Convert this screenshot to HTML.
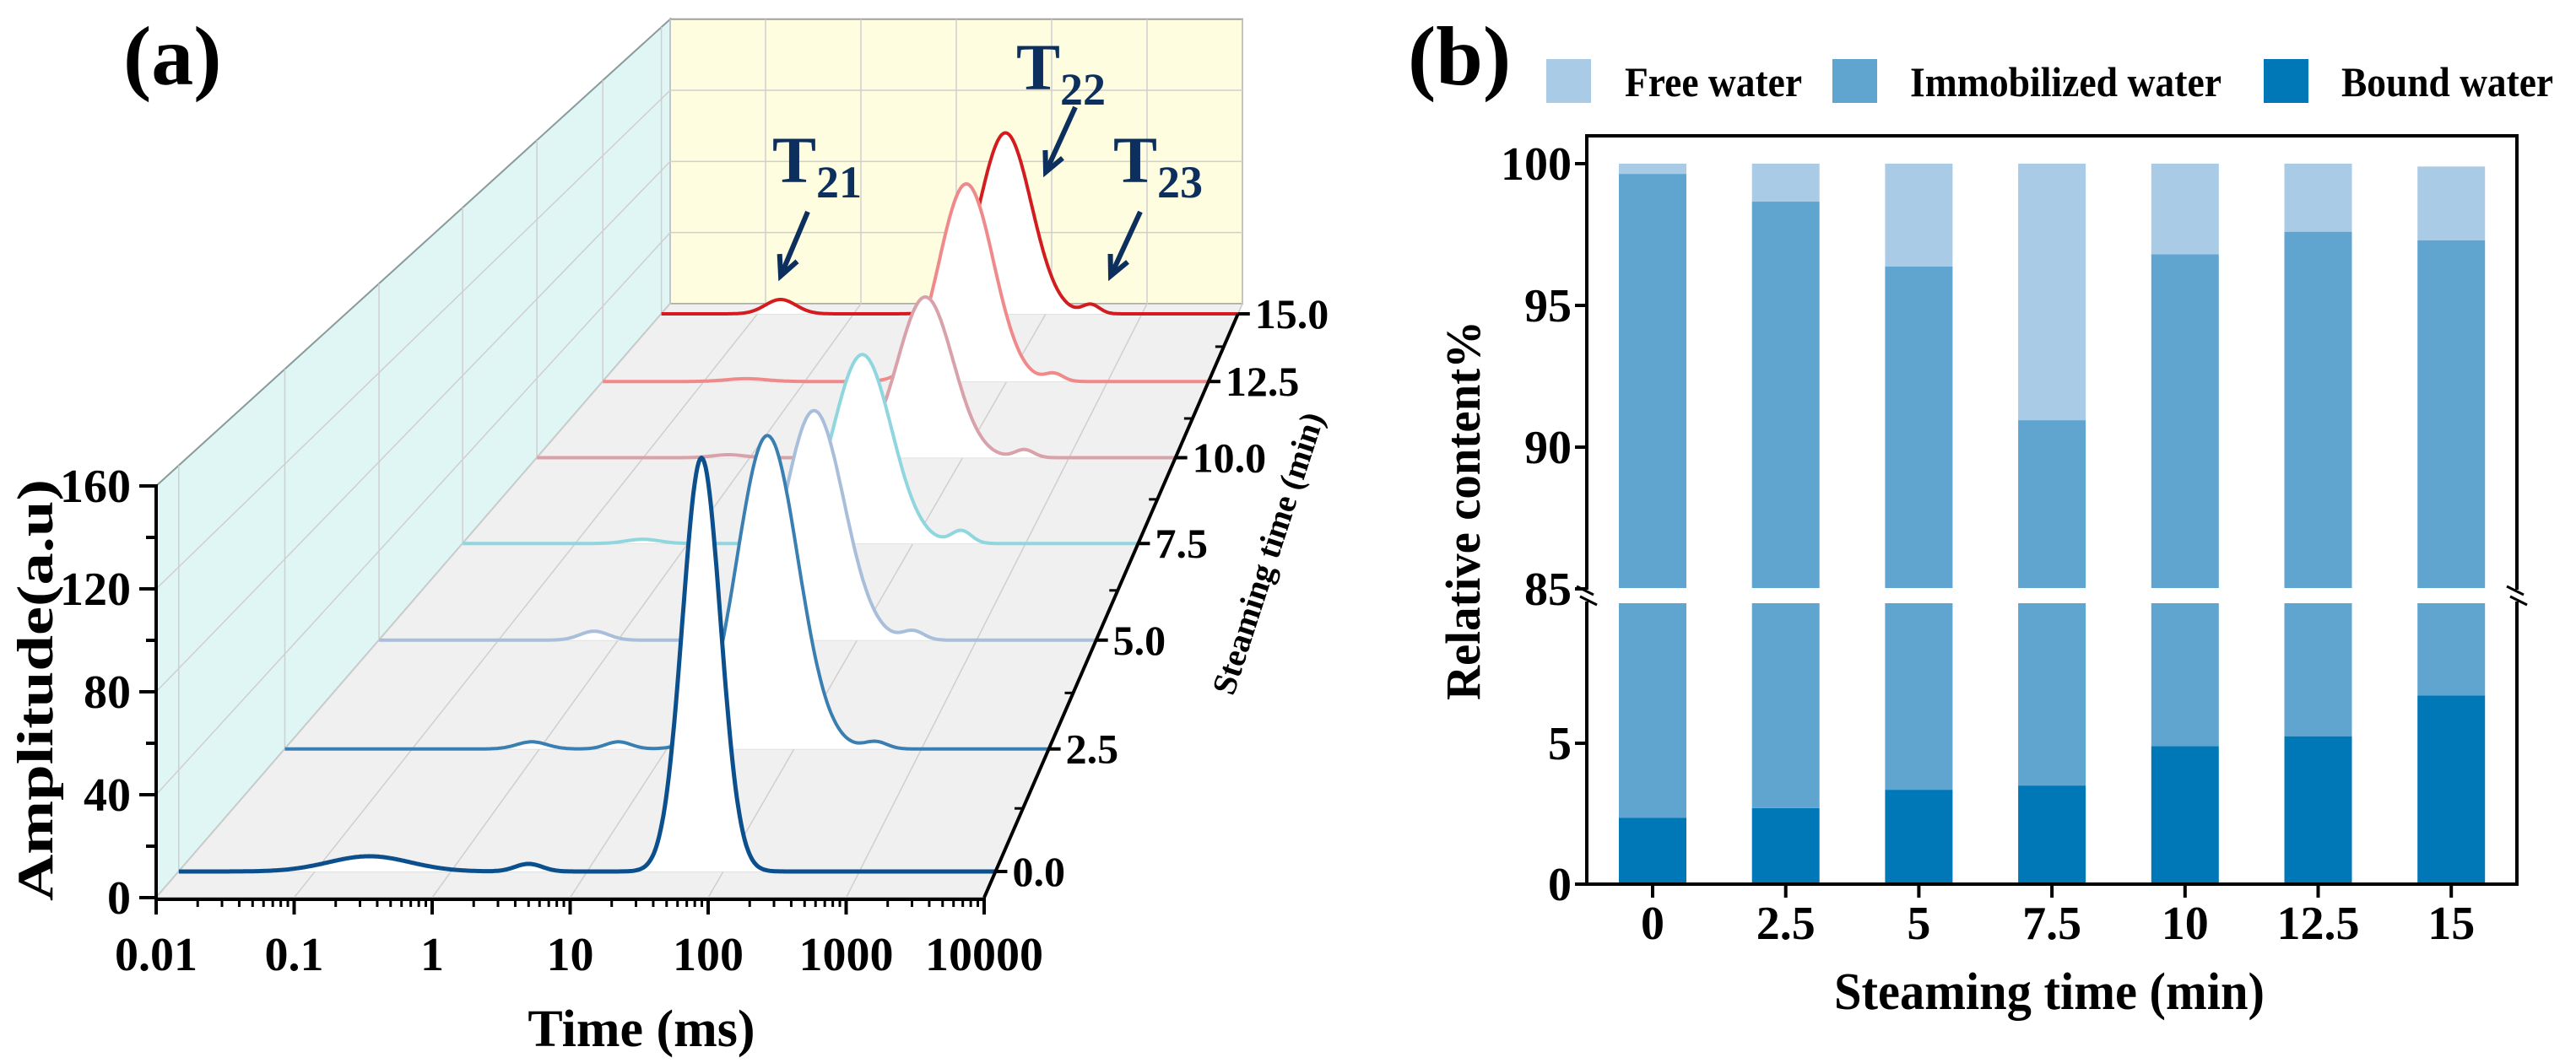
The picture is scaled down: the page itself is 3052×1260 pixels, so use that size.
<!DOCTYPE html>
<html><head><meta charset="utf-8"><style>
html,body{margin:0;padding:0;background:#fff;}
svg{display:block;}
text{font-family:"Liberation Serif",serif;font-weight:bold;}
</style></head><body>
<svg id="fig" xmlns="http://www.w3.org/2000/svg" width="3052" height="1260" viewBox="0 0 3052 1260">
<g id="pa"></g>
<g id="pb"></g>
</svg>
<script>
// ---------- Panel (a) data ----------
const depths = [0, 2.5, 5, 7.5, 10, 12.5, 15];
const depthLabels = ["0.0","2.5","5.0","7.5","10.0","12.5","15.0"];
const seriesColors = ["#0b4f8c","#3a7fb2","#a8bedb","#8fd6df","#d9a2aa","#f08a8a","#d21c1f"];
const mainCenter = [1.84, 1.79, 1.64, 1.55, 1.65, 1.60, 1.58];
const mainAmp = [163, 132, 103, 90, 81, 105, 101];
const mainSigma = [0.14, 0.24, 0.25, 0.26, 0.26, 0.27, 0.27];
const t21Center = [-0.6, -0.06, -0.2, -0.4, -0.2, -0.58, -0.76];
const t21Amp = [6, 3, 4, 2, 1.5, 1.5, 8];
const t21Sigma = [0.3, 0.12, 0.12, 0.15, 0.15, 0.2, 0.16];
const midCenter = [0.57, 0.62, 0.6, 0.6, 0.6, 0.6, 0.6];
const midAmp = [3, 3, 0, 0, 0, 0, 0];
const t23Center = [2.6, 2.64, 2.47, 2.43, 2.58, 2.47, 2.47];
const t23Amp = [0, 3, 4, 6, 4, 4, 5];
const xTickLabels = ["0.01","0.1","1","10","100","1000","10000"];
const yTickValues = [0, 40, 80, 120, 160];

// ---------- Panel (b) data ----------
const categories = ["0","2.5","5","7.5","10","12.5","15"];
const boundWater = [2.35, 2.7, 3.35, 3.5, 4.9, 5.25, 6.7];
const immobilizedWater = [97.29, 95.96, 93.02, 87.45, 91.9, 92.35, 90.6];
const freeWater = [0.36, 1.34, 3.63, 9.05, 3.2, 2.4, 2.6];
const upperTicks = [85, 90, 95, 100];
const lowerTicks = [0, 5];

const NS = "http://www.w3.org/2000/svg";
function mk(parent, tag, attrs, txt) {
  const e = document.createElementNS(NS, tag);
  for (const k in attrs) e.setAttribute(k, attrs[k]);
  if (txt !== undefined) e.textContent = txt;
  parent.appendChild(e);
  return e;
}

// ===== Panel (a) =====
const pa = document.getElementById('pa');
const FY = 1064, BY = 360, FL = 185, FR = 1166, BL = 794, BR = 1472;
function xLeftAt(y){ return FL + (FY - y) * (BL - FL) / (FY - BY); }
function xRightAt(y){ return FR + (FY - y) * (BR - FR) / (FY - BY); }
function widthAt(y){ return xRightAt(y) - xLeftAt(y); }
function scaleAt(y){ return widthAt(y) * (488/160) / (FR - FL); }
const R = 0.888;
function depthY(d){ const n = d/2.5; return 1033 - 661 * (1 - Math.pow(R, n)) / (1 - Math.pow(R, 6)); }
function xAt(lt, y){ return xLeftAt(y) + (lt + 2) / 6 * widthAt(y); }
function ampY(a, y){ return y - a * scaleAt(y); }

let e;
e = mk(pa, 'polygon', {points:`${FL},${ampY(160,FY)} ${BL},${ampY(160,BY)} ${BL},${BY} ${FL},${FY}`, fill:'#e0f6f4', stroke:'#8a9a9a', 'stroke-width':2});
 
e = mk(pa, 'rect', {x:BL, y:ampY(160,BY), width:BR-BL, height:BY-ampY(160,BY), fill:'#fefde0', stroke:'#a0a0a0', 'stroke-width':2});
 
e = mk(pa, 'polygon', {points:`${FL},${FY} ${FR},${FY} ${BR},${BY} ${BL},${BY}`, fill:'#f0f0f0', stroke:'#b0b0b0', 'stroke-width':1.5});
 

const grid = mk(pa, 'g', {stroke:'#cfcfcf', 'stroke-width':1.5, fill:'none'});
 
for (let k = 0; k <= 6; k++) {
  const lt = k - 2;
  mk(grid, 'line', {x1:xAt(lt,FY), y1:FY, x2:xAt(lt,BY), y2:BY});
  mk(grid, 'line', {x1:xAt(lt,BY), y1:BY, x2:xAt(lt,BY), y2:ampY(160,BY)});
}
[40,80,120].forEach(a => {
  mk(grid, 'line', {x1:BL, y1:ampY(a,BY), x2:BR, y2:ampY(a,BY)});
  mk(grid, 'line', {x1:FL, y1:ampY(a,FY), x2:BL, y2:ampY(a,BY)});
});
depths.forEach(d => {
  const y = depthY(d), xl = xLeftAt(y);
  const yt = ampY(160,FY) + (xl - FL) * (ampY(160,BY) - ampY(160,FY)) / (BL - FL);
  mk(grid, 'line', {x1:xl, y1:y, x2:xl, y2:yt});
  mk(grid, 'line', {x1:xl, y1:y, x2:xRightAt(y), y2:y, stroke:'#dadada'});
});

for (let i = depths.length - 1; i >= 0; i--) {
  const y0 = depthY(depths[i]);
  let pts = [];
  for (let lt = -2; lt <= 4.0001; lt += 0.01) {
    const g = (c, a, s) => a * Math.exp(-0.5 * Math.pow((lt - c) / s, 2));
    const a = g(mainCenter[i], mainAmp[i], mainSigma[i]) + g(t21Center[i], t21Amp[i], t21Sigma[i])
            + g(midCenter[i], midAmp[i], 0.1) + g(t23Center[i], t23Amp[i], 0.09);
    pts.push([xAt(lt, y0), ampY(a, y0)]);
  }
  const dstr = pts.map((p, j) => (j ? 'L' : 'M') + p[0].toFixed(1) + ',' + p[1].toFixed(1)).join('');
  const sg = mk(pa, 'g', {});
  
  
  mk(sg, 'path', {d: dstr + `L${xRightAt(y0)},${y0}L${xLeftAt(y0)},${y0}Z`, fill:'#ffffff', stroke:'none'});
  mk(sg, 'path', {d: dstr, fill:'none', stroke: seriesColors[i], 'stroke-width': i === 0 ? 5 : 4, 'stroke-linejoin':'round'});
}

const yax = mk(pa, 'g', {stroke:'#000', 'stroke-width':4});
 
mk(yax, 'line', {x1:FL, y1:ampY(160,FY)-2, x2:FL, y2:FY+2});
for (let a = 0; a <= 160; a += 20) {
  const y = ampY(a, FY), major = a % 40 === 0;
  mk(yax, 'line', {x1:FL - (major ? 20 : 12), y1:y, x2:FL, y2:y});
}
yTickValues.forEach(v => {
  e = mk(pa, 'text', {x:155, y:ampY(v,FY)+19, 'font-size':56, 'text-anchor':'end'}, String(v));
   
});
e = mk(pa, 'text', {x:0, y:0, 'font-size':60, 'text-anchor':'middle', transform:'translate(62,818) rotate(-90)', 'font-family':'Liberation Sans', textLength:500, lengthAdjust:'spacingAndGlyphs'}, 'Amplitude(a.u)');
 

const xax = mk(pa, 'g', {stroke:'#000', 'stroke-width':4});
 
mk(xax, 'line', {x1:FL-2, y1:FY+2, x2:FR+2, y2:FY+2});
for (let k = 0; k < 7; k++) {
  const lt = k - 2;
  mk(xax, 'line', {x1:xAt(lt,FY), y1:FY, x2:xAt(lt,FY), y2:FY+20});
  if (k < 6) for (let m = 2; m <= 9; m++) {
    const x = xAt(lt + Math.log10(m), FY);
    mk(xax, 'line', {x1:x, y1:FY, x2:x, y2:FY+11, 'stroke-width':3});
  }
}
xTickLabels.forEach((s, k) => {
  e = mk(pa, 'text', {x:xAt(k-2,FY), y:1150, 'font-size':56, 'text-anchor':'middle'}, s);
   
});
e = mk(pa, 'text', {x:760, y:1240, 'font-size':62, 'text-anchor':'middle'}, 'Time (ms)');
 

const dax = mk(pa, 'g', {stroke:'#000', 'stroke-width':4});
 
mk(dax, 'line', {x1:FR, y1:FY, x2:xRightAt(depthY(15)), y2:depthY(15)});
depths.forEach((d, i) => {
  const y = depthY(d), x = xRightAt(y);
  mk(dax, 'line', {x1:x, y1:y, x2:x+14, y2:y});
  if (i < depths.length - 1) {
    const ym = depthY(d + 1.25), xm = xRightAt(ym);
    mk(dax, 'line', {x1:xm-10, y1:ym, x2:xm, y2:ym, 'stroke-width':3});
  }
  e = mk(pa, 'text', {x:x+20, y:y+17, 'font-size':50}, depthLabels[i]);
   
});
e = mk(pa, 'text', {x:0, y:0, 'font-size':40, 'text-anchor':'middle', 'font-weight':'normal', transform:'translate(1515,660) rotate(-72)'}, 'Steaming time (min)');
 

const ann = [["21", 915, 216, 957, 251, 925, 327], ["22", 1204, 106, 1274, 127, 1239, 204], ["23", 1319, 216, 1351, 251, 1316, 327]];
ann.forEach(a => {
  const g = mk(pa, 'g', {});
   
  const t = mk(g, 'text', {x:a[1], y:a[2], 'font-size':78, fill:'#0d2f5e'}, 'T');
  mk(t, 'tspan', {'font-size':54, dy:18}, a[0]);
  mk(g, 'line', {x1:a[3], y1:a[4], x2:a[5], y2:a[6], stroke:'#0d2f5e', 'stroke-width':6});
  const ang = Math.atan2(a[6]-a[4], a[5]-a[3]);
  const hl = 26, sp = 0.45;
  mk(g, 'polyline', {points:`${a[5]-hl*Math.cos(ang-sp)},${a[6]-hl*Math.sin(ang-sp)} ${a[5]},${a[6]} ${a[5]-hl*Math.cos(ang+sp)},${a[6]-hl*Math.sin(ang+sp)}`, fill:'none', stroke:'#0d2f5e', 'stroke-width':6});
});
e = mk(pa, 'text', {x:146, y:100, 'font-size':100}, '(a)');
 

// ===== Panel (b) =====
const pb = document.getElementById('pb');
const AX = 1880, RX = 2982, TOPY = 161, BOT = 1048;
function yUpper(v){ return 194 + (100 - v) * 33.6; }
function yLower(v){ return BOT - v * 33.4; }
const UPPER_BOT = 697, LOWER_TOP = 715;
function xCat(i){ return 1958 + i * 157.7; }
const BW = 80;
const colFree = '#a9cbe5', colImm = '#5fa5cf', colBound = '#0077b6';

function segRect(parent, x, v0, v1, color, name) {
  const lo0 = Math.min(v0, 10), lo1 = Math.min(v1, 10);
  if (lo1 > lo0) {
    const yt = lo1 >= 10 ? LOWER_TOP : yLower(lo1);
    const r = mk(parent, 'rect', {x:x-BW/2, y:yt, width:BW, height:yLower(lo0)-yt, fill:color});
     
  }
  const up0 = Math.max(v0, 85), up1 = Math.max(v1, 85);
  if (up1 > up0) {
    const yb = up0 <= 85 ? UPPER_BOT : yUpper(up0);
    const r = mk(parent, 'rect', {x:x-BW/2, y:yUpper(up1), width:BW, height:yb-yUpper(up1), fill:color});
     
  }
}
categories.forEach((c, i) => {
  const g = mk(pb, 'g', {});
   
  const x = xCat(i);
  const b = boundWater[i], m = b + immobilizedWater[i], f = m + freeWater[i];
  segRect(g, x, 0, b, colBound, 'bound-water-bar');
  segRect(g, x, b, m, colImm, 'immobilized-water-bar');
  segRect(g, x, m, f, colFree, 'free-water-bar');
});

const fr = mk(pb, 'g', {stroke:'#000', 'stroke-width':4, fill:'none'});
 
mk(fr, 'polyline', {points:`${AX},${UPPER_BOT+2} ${AX},${TOPY} ${RX},${TOPY} ${RX},${UPPER_BOT+2}`});
mk(fr, 'polyline', {points:`${AX},${LOWER_TOP-2} ${AX},${BOT} ${RX},${BOT} ${RX},${LOWER_TOP-2}`});
[AX, RX].forEach(x => {
  mk(fr, 'path', {d:`M${x-12},${UPPER_BOT-2} L${x+8},${UPPER_BOT+8}`, 'stroke-width':3});
  mk(fr, 'path', {d:`M${x-8},${LOWER_TOP-8} L${x+12},${LOWER_TOP+2}`, 'stroke-width':3});
});
upperTicks.forEach(v => {
  mk(fr, 'line', {x1:AX-14, y1:yUpper(v), x2:AX, y2:yUpper(v)});
  e = mk(pb, 'text', {x:AX-18, y:yUpper(v)+19, 'font-size':56, 'text-anchor':'end'}, String(v));
   
});
lowerTicks.forEach(v => {
  mk(fr, 'line', {x1:AX-14, y1:yLower(v), x2:AX, y2:yLower(v)});
  e = mk(pb, 'text', {x:AX-18, y:yLower(v)+19, 'font-size':56, 'text-anchor':'end'}, String(v));
   
});
categories.forEach((c, i) => {
  mk(fr, 'line', {x1:xCat(i), y1:BOT, x2:xCat(i), y2:BOT+16});
  e = mk(pb, 'text', {x:xCat(i), y:1113, 'font-size':56, 'text-anchor':'middle'}, c);
   
});
e = mk(pb, 'text', {x:2428, y:1196, 'font-size':62, 'text-anchor':'middle', textLength:510, lengthAdjust:'spacingAndGlyphs'}, 'Steaming time (min)');
 
e = mk(pb, 'text', {x:0, y:0, 'font-size':58, 'text-anchor':'middle', 'font-family':'Liberation Sans', transform:'translate(1753,605) rotate(-90)', textLength:450, lengthAdjust:'spacingAndGlyphs'}, 'Relative content%');
 
e = mk(pb, 'text', {x:1668, y:100, 'font-size':100}, '(b)');
 

const legNames = ['Free water','Immobilized water','Bound water'];
const legCols = [colFree, colImm, colBound];
const legSqX = [1832, 2171, 2682];
const legTxX = [1925, 2263, 2774];
const legTxW = [210, 369, 251];
const lg = mk(pb, 'g', {});
 
legNames.forEach((n, i) => {
  const g = mk(lg, 'g', {});
   
  mk(g, 'rect', {x:legSqX[i], y:70, width:53, height:52, fill:legCols[i]});
  mk(g, 'text', {x:legTxX[i], y:114, 'font-size':50, textLength:legTxW[i], lengthAdjust:'spacingAndGlyphs'}, n);
});
</script>
</body></html>
